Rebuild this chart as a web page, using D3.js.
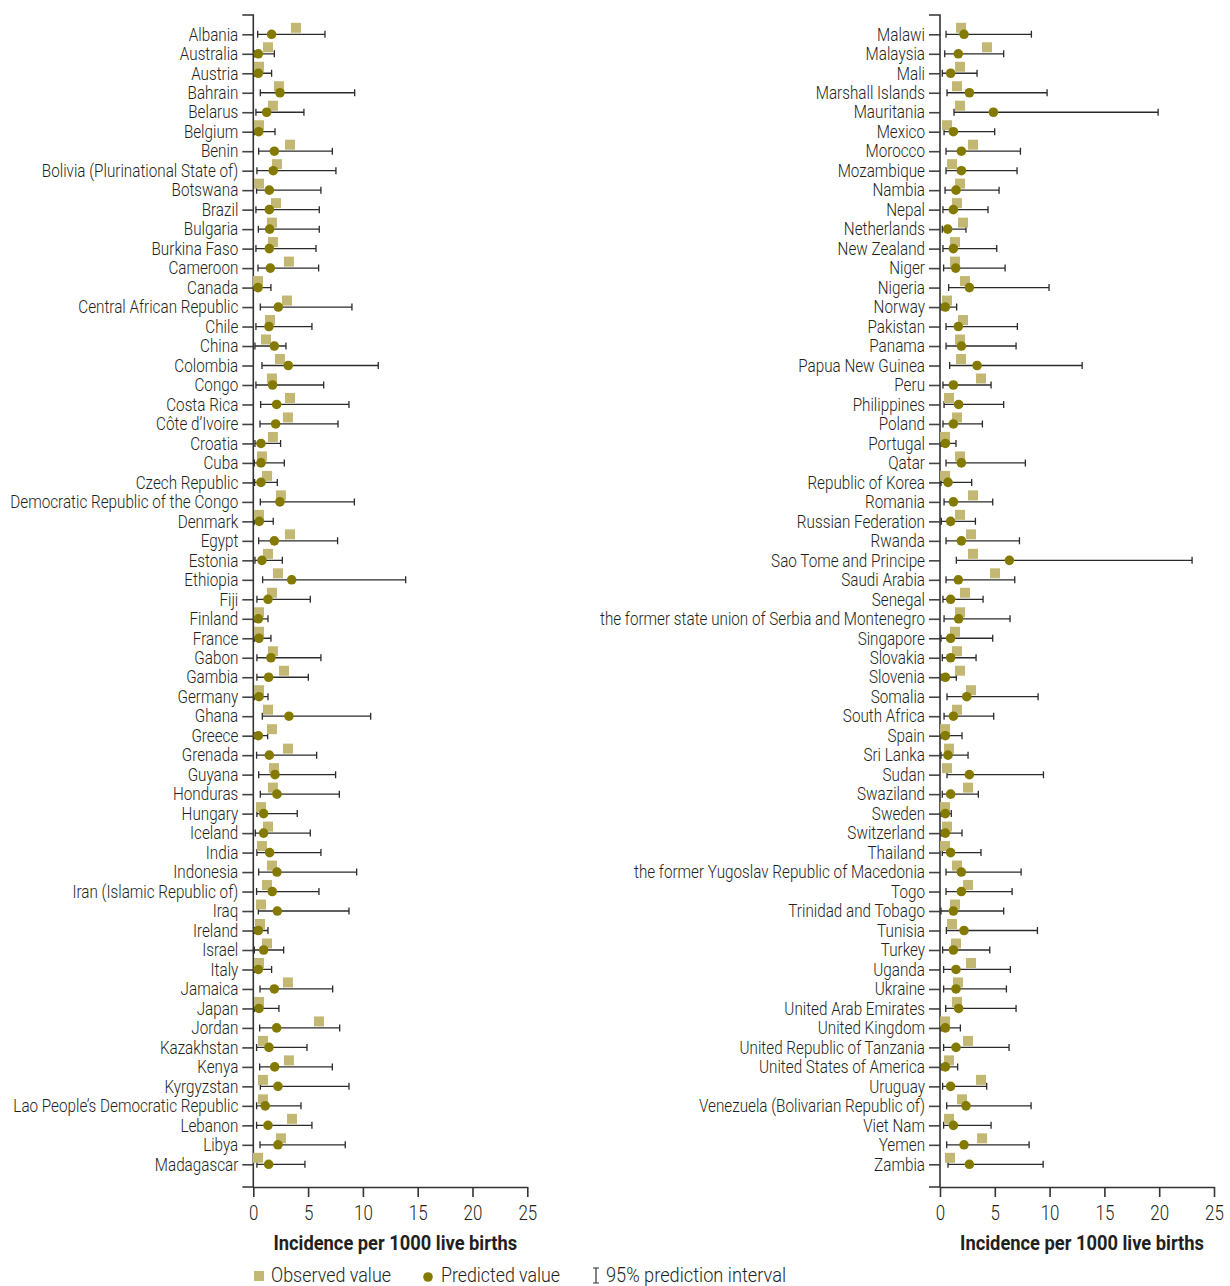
<!DOCTYPE html>
<html><head><meta charset="utf-8">
<script src="https://cdn.jsdelivr.net/npm/d3@7"></script>
<style>
body{margin:0;background:#fff}
svg{display:block}
text{font-family:Roboto,"Noto Sans",sans-serif;fill:#231f20}
</style>
</head><body>
<svg id="c" width="1230" height="1286"></svg>
<script>
const countriesLeft = ["Albania","Australia","Austria","Bahrain","Belarus","Belgium","Benin","Bolivia (Plurinational State of)","Botswana","Brazil","Bulgaria","Burkina Faso","Cameroon","Canada","Central African Republic","Chile","China","Colombia","Congo","Costa Rica","Côte d’Ivoire","Croatia","Cuba","Czech Republic","Democratic Republic of the Congo","Denmark","Egypt","Estonia","Ethiopia","Fiji","Finland","France","Gabon","Gambia","Germany","Ghana","Greece","Grenada","Guyana","Honduras","Hungary","Iceland","India","Indonesia","Iran (Islamic Republic of)","Iraq","Ireland","Israel","Italy","Jamaica","Japan","Jordan","Kazakhstan","Kenya","Kyrgyzstan","Lao People’s Democratic Republic","Lebanon","Libya","Madagascar"];
const observedLeft = [3.89,1.34,0.52,2.34,1.79,0.52,3.35,2.16,0.52,2.07,1.70,1.79,3.25,0.43,3.07,1.52,1.16,2.43,1.70,3.35,3.16,1.79,0.79,1.25,2.52,0.52,3.35,1.34,2.25,1.70,0.52,0.52,1.79,2.80,0.52,1.34,1.70,3.16,1.89,1.79,0.70,1.34,0.79,1.70,1.25,0.70,0.61,1.25,0.52,3.16,0.52,5.99,0.88,3.25,0.88,0.88,3.53,2.52,0.43];
const predictedLeft = [1.67,0.46,0.46,2.43,1.22,0.49,1.92,1.82,1.46,1.46,1.49,1.46,1.55,0.43,2.28,1.43,1.92,3.19,1.76,2.13,2.04,0.70,0.70,0.70,2.43,0.55,1.92,0.79,3.50,1.34,0.46,0.52,1.61,1.40,0.52,3.25,0.46,1.46,1.98,2.16,0.94,0.94,1.49,2.16,1.73,2.19,0.46,0.94,0.46,1.92,0.52,2.13,1.43,1.95,2.25,1.09,1.34,2.25,1.40];
const lowerLeft = [0.40,0.10,0.10,0.64,0.24,0.10,0.49,0.33,0.30,0.24,0.46,0.24,0.43,0.05,0.64,0.24,0.15,0.79,0.24,0.67,0.61,0.15,0.09,0.12,0.64,0.10,0.49,0.15,0.85,0.33,0.10,0.10,0.33,0.33,0.10,0.82,0.10,0.30,0.49,0.64,0.33,0.18,0.33,0.49,0.30,0.46,0.10,0.09,0.10,0.61,0.10,0.58,0.30,0.58,0.64,0.30,0.30,0.61,0.33];
const upperLeft = [6.54,1.92,1.67,9.25,4.62,1.98,7.21,7.54,6.17,6.02,6.02,5.72,5.96,1.61,9.00,5.35,2.98,11.40,6.42,8.73,7.73,2.49,2.83,2.19,9.22,1.82,7.69,2.65,13.90,5.20,1.34,1.61,6.17,5.02,1.34,10.71,1.31,5.78,7.51,7.85,4.01,5.20,6.17,9.43,5.99,8.73,1.34,2.77,1.67,7.24,2.34,7.88,4.90,7.21,8.73,4.35,5.35,8.39,4.71];

const countriesRight = ["Malawi","Malaysia","Mali","Marshall Islands","Mauritania","Mexico","Morocco","Mozambique","Nambia","Nepal","Netherlands","New Zealand","Niger","Nigeria","Norway","Pakistan","Panama","Papua New Guinea","Peru","Philippines","Poland","Portugal","Qatar","Republic of Korea","Romania","Russian Federation","Rwanda","Sao Tome and Principe","Saudi Arabia","Senegal","the former state union of Serbia and Montenegro","Singapore","Slovakia","Slovenia","Somalia","South Africa","Spain","Sri Lanka","Sudan","Swaziland","Sweden","Switzerland","Thailand","the former Yugoslav Republic of Macedonia","Togo","Trinidad and Tobago","Tunisia","Turkey","Uganda","Ukraine","United Arab Emirates","United Kingdom","United Republic of Tanzania","United States of America","Uruguay","Venezuela (Bolivarian Republic of)","Viet Nam","Yemen","Zambia"];
const observedRight = [1.92,4.29,1.83,1.55,1.83,0.64,3.01,1.10,1.83,1.55,2.10,1.37,1.37,2.28,0.64,2.10,1.83,1.92,3.74,0.82,1.55,0.46,1.83,0.46,3.01,1.83,2.83,3.01,5.02,2.28,1.83,1.37,1.55,1.83,2.83,1.55,0.46,0.82,0.64,2.56,0.46,0.64,0.46,1.55,2.56,1.37,1.10,1.46,2.83,1.64,1.55,0.46,2.56,0.82,3.74,2.01,0.82,3.84,0.91];
const predictedRight = [2.19,1.67,0.97,2.68,4.87,1.22,1.95,1.95,1.46,1.22,0.70,1.22,1.43,2.68,0.49,1.67,1.95,3.38,1.22,1.70,1.22,0.49,1.95,0.73,1.22,0.97,1.95,6.33,1.67,0.97,1.70,0.97,0.97,0.49,2.44,1.22,0.49,0.73,2.68,0.97,0.49,0.49,0.97,1.95,1.95,1.22,2.19,1.22,1.46,1.46,1.70,0.49,1.46,0.49,0.97,2.37,1.22,2.19,2.68];
const lowerRight = [0.55,0.43,0.21,0.64,1.28,0.37,0.55,0.55,0.46,0.27,0.21,0.27,0.33,0.79,0.10,0.55,0.55,0.88,0.27,0.37,0.27,0.10,0.55,0.09,0.37,0.12,0.55,1.49,0.55,0.27,0.37,0.09,0.21,0.10,0.64,0.37,0.10,0.09,0.64,0.21,0.10,0.10,0.21,0.55,0.55,0.09,0.58,0.24,0.33,0.33,0.52,0.10,0.33,0.10,0.24,0.61,0.33,0.61,0.73];
const upperRight = [8.34,5.81,3.38,9.77,19.9,4.99,7.34,7.03,5.39,4.38,2.37,5.18,5.94,9.95,1.52,7.06,6.94,12.97,4.66,5.81,3.87,1.46,7.79,2.89,4.81,3.23,7.25,23.0,6.82,3.93,6.39,4.81,3.29,1.49,8.95,4.90,2.01,2.56,9.44,3.50,1.03,2.01,3.74,7.40,6.58,5.81,8.89,4.54,6.42,6.06,6.94,1.86,6.30,1.61,4.26,8.31,4.66,8.13,9.41];

const xTicks = [0,5,10,15,20,25];
const xTitle = "Incidence per 1000 live births";
const legendLabels = ["Observed value","Predicted value","95% prediction interval"];

const svg = d3.select("#c");
const obsColor = "#c2b874", predColor = "#857a00", barColor = "#2b2b2b";
const axisTop = 15, axisBottom = 1187, rowTop = 34.3, rowBottom = 1164.3;

const probe = svg.append("text").attr("font-size",18).attr("font-weight",300).text("Democratic Republic of the Congo");
const F = 228 / probe.node().getComputedTextLength();
probe.remove();
function condense(sel){
  sel.each(function(){
    const w = this.getComputedTextLength();
    d3.select(this).attr("textLength", w*F).attr("lengthAdjust","spacingAndGlyphs");
  });
}

function panel(x0, x1, countries, obs, pred, lo, hi){
  const x = d3.scaleLinear().domain([0,25]).range([x0,x1]);
  const y = d3.scalePoint().domain(countries).range([rowTop,rowBottom]);
  const g = svg.append("g");

  const ya = g.append("g").attr("transform",`translate(${x0},0)`)
    .call(d3.axisLeft(y).tickSize(11).tickPadding(4).tickSizeOuter(0));
  ya.select(".domain").remove();
  ya.selectAll(".tick line").attr("stroke","#444").attr("stroke-width",1.6);
  ya.selectAll(".tick text").attr("font-size",18).attr("font-weight",300).attr("font-family",null).attr("fill","#231f20").call(condense);
  g.append("path").attr("d",`M${x0-11},${axisTop}H${x0}V${axisBottom}H${x0-11}`).attr("fill","none").attr("stroke","#333").attr("stroke-width",1.6);

  const xa = g.append("g").attr("transform",`translate(0,${axisBottom})`)
    .call(d3.axisBottom(x).tickValues(xTicks).tickSize(10).tickPadding(9).tickSizeOuter(0));
  xa.select(".domain").attr("stroke","#333").attr("stroke-width",1.6);
  xa.selectAll(".tick line").attr("stroke","#333").attr("stroke-width",1.6);
  xa.selectAll(".tick text").attr("font-size",20).attr("font-weight",300).attr("font-family",null).attr("fill","#231f20").call(condense);

  const tg = g.append("g");
  const tt = tg.append("text").attr("text-anchor","middle").attr("font-size",21).attr("font-weight",700).text(xTitle);
  const sx = 244 / tt.node().getComputedTextLength();
  tg.attr("transform",`translate(${(x0+x1)/2+5},1250) scale(${sx},1)`);

  const rows = countries.map((c,i)=>({c,o:obs[i],p:pred[i],l:lo[i],h:hi[i]}));
  const bars = g.append("g").attr("stroke",barColor).attr("fill","none");
  bars.selectAll("path").data(rows).join("path")
    .attr("d",d=>{const yy=y(d.c), a=x(d.l), b=x(d.h);
      return `M${a},${yy}H${b}M${a},${yy-3.5}V${yy+3.5}M${b},${yy-3.5}V${yy+3.5}`;})
    .attr("stroke-width",1.3);
  g.append("g").selectAll("rect").data(rows).join("rect")
    .attr("x",d=>x(d.o)-5).attr("y",d=>y(d.c)-11.5).attr("width",10).attr("height",10).attr("fill",obsColor);
  g.append("g").selectAll("circle").data(rows).join("circle")
    .attr("cx",d=>x(d.p)).attr("cy",d=>y(d.c)).attr("r",4.8).attr("fill",predColor);
}

panel(253.3, 527.3, countriesLeft, observedLeft, predictedLeft, lowerLeft, upperLeft);
panel(940, 1214, countriesRight, observedRight, predictedRight, lowerRight, upperRight);

const lg = svg.append("g");
lg.append("rect").attr("x",254).attr("y",1271).attr("width",10).attr("height",10).attr("fill",obsColor);
lg.append("circle").attr("cx",428).attr("cy",1277).attr("r",4.8).attr("fill",predColor);
lg.append("path").attr("d","M596,1268V1283M593,1268H599M593,1283H599").attr("stroke","#333").attr("stroke-width",1.2).attr("fill","none");
const lx = [271,441,606];
const lw = [120,119,180];
lg.selectAll("text").data(legendLabels).join("text")
  .attr("x",(d,i)=>lx[i]).attr("y",1282).attr("font-size",20).attr("font-weight",300)
  .attr("textLength",(d,i)=>lw[i]).attr("lengthAdjust","spacingAndGlyphs").text(d=>d);
</script>
</body></html>
